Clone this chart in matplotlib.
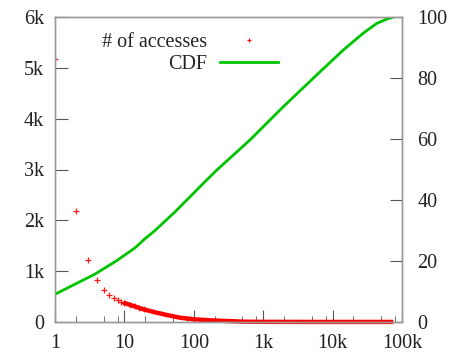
import numpy as np
import matplotlib
matplotlib.use('Agg')
import matplotlib.pyplot as plt
from matplotlib.lines import Line2D
from matplotlib.ticker import FixedLocator, FixedFormatter, NullLocator

plt.rcParams['font.family'] = ['Liberation Serif', 'DejaVu Serif']

# access counts per rank (head ranks are drawn one by one)
head_rank = [1, 2, 3, 4, 5, 6, 7, 8, 9, 10, 12, 14, 16, 19]
head_count = [5170, 2184, 1228, 826, 628, 535, 481, 430, 400, 382, 340,
              310, 285, 255]
# dense tail of the rank/count points, read at sample ranks
tail_rank = [9.6, 13.4, 18.7, 29, 40.5, 63, 100, 171, 298, 517, 1000,
             2000, 5000, 10000, 20000, 50000, 75000]
tail_count = [382, 317, 251, 184, 139, 85, 53, 33, 20, 6, 3, 2, 1, 1, 1,
              1, 1]
# cumulative share of accesses (%)
cdf_rank = [1, 1.94, 3.77, 7.74, 14.2, 19.8, 27.6, 53.6, 104, 145, 214, 517,
            646, 1950, 5900, 14300, 27700, 43200, 60100, 75000]
cdf_pct = [9.1, 12.4, 15.7, 20.1, 24.3, 27.3, 30, 36.1, 42.7, 46, 49.8,
           57.7, 59.7, 70.6, 81, 89.2, 94.7, 97.9, 99.3, 100]

xticks = [1, 10, 100, 1e3, 1e4, 1e5]
xlabels = ['1', '10', '100', '1k', '10k', '100k']
yticks = [0, 1000, 2000, 3000, 4000, 5000, 6000]
ylabels = ['0', '1k', '2k', '3k', '4k', '5k', '6k']
y2ticks = [0, 20, 40, 60, 80, 100]

red = '#ff0000'
green = '#00c400'
fs = 14.5

fig = plt.figure(figsize=(4.5, 3.56), dpi=100)
ax = fig.add_axes([55/450, 1 - 322/356, 347/450, 305/356])
ax2 = ax.twinx()

ax.plot(tail_rank, tail_count, '-', color=red, lw=3.2, solid_capstyle='butt',
        solid_joinstyle='round', clip_on=False)
ax.plot(head_rank, head_count, '+', color=red, ms=5, mew=0.9, ls='none',
        alpha=0.9)
ax2.plot(cdf_rank, cdf_pct, '-', color=green, lw=2, solid_joinstyle='round')

ax.set_xscale('log')
ax.set_xlim(1, 1e5)
ax.set_ylim(0, 6000)
ax2.set_ylim(0, 100)

minors = [m * 10**d for d in range(5) for m in (2, 5, 8)]
ax.xaxis.set_major_locator(FixedLocator(xticks))
ax.xaxis.set_major_formatter(FixedFormatter(xlabels))
ax.xaxis.set_minor_locator(FixedLocator(minors))
ax.set_yticks(yticks)
ax.set_yticklabels(ylabels)
ax.yaxis.set_minor_locator(NullLocator())
ax2.set_yticks(y2ticks)
ax2.yaxis.set_minor_locator(NullLocator())

for a in (ax, ax2):
    for s in a.spines.values():
        s.set_color('#999999')
        s.set_linewidth(1)
    a.tick_params(which='both', direction='in', colors='#555555',
                  labelcolor='#222222', labelsize=fs)
ax.tick_params(axis='x', which='major', length=8.5, pad=9, top=False)
ax.tick_params(axis='x', which='minor', length=4.3, top=False)
ax.tick_params(axis='y', length=9, pad=8, right=False)
ax2.tick_params(axis='y', length=8.5, pad=11)

handles = [Line2D([], [], color=red, marker='+', ls='none', ms=3.5, mew=0.8),
           Line2D([], [], color=green, lw=2)]
ax2.legend(handles, ['# of accesses', 'CDF'], loc='upper right',
           bbox_to_anchor=(0.643, 0.947), frameon=False, markerfirst=False,
           alignment='right', handlelength=2.9, handletextpad=0.65,
           labelspacing=0.15, borderpad=0, borderaxespad=0, fontsize=fs,
           numpoints=1, labelcolor='#222222')

fig.savefig('out.png', dpi=100)
